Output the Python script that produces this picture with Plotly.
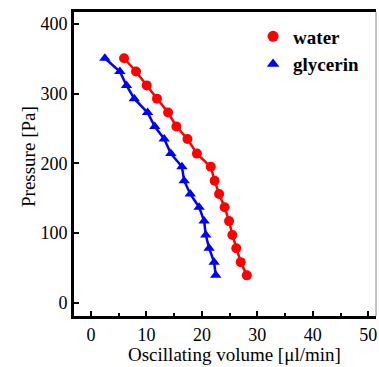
import plotly.graph_objects as go

pressure = [351, 332, 312, 293, 273, 253, 235, 214, 195, 175, 156, 137, 117, 97, 78, 58, 39]
water_vol = [5.96, 8.12, 10.05, 11.9, 13.9, 15.4, 17.4, 19.1, 21.6, 22.3, 23.1, 24.1, 24.9, 25.5, 26.2, 27.0, 28.1]
glycerin_vol = [2.5, 5.2, 6.4, 7.8, 10.2, 11.5, 13.2, 14.4, 16.4, 16.8, 17.9, 19.5, 20.4, 20.7, 21.3, 22.2, 22.5]

x_ticks = [0, 10, 20, 30, 40, 50]
y_ticks = [0, 100, 200, 300, 400]

serif = "Liberation Serif, Times New Roman, serif"
RED = "#ff0000"
BLUE = "#0000ff"

fig = go.Figure()
fig.add_trace(go.Scatter(
    x=water_vol, y=pressure, mode="lines+markers", name="water", showlegend=False,
    line=dict(color=RED, width=2.5),
    marker=dict(symbol="circle", size=10, color=RED),
))
fig.add_trace(go.Scatter(
    x=glycerin_vol, y=pressure, mode="lines+markers", name="glycerin", showlegend=False,
    line=dict(color=BLUE, width=2.5),
    marker=dict(symbol="triangle-up", size=10, color=BLUE),
))
# legend entries (markers only, like the reference)
fig.add_trace(go.Scatter(x=[None], y=[None], mode="markers", name="water",
                         marker=dict(symbol="circle", size=11, color=RED)))
fig.add_trace(go.Scatter(x=[None], y=[None], mode="markers", name="glycerin",
                         marker=dict(symbol="triangle-up", size=11, color=BLUE)))

fig.update_layout(
    width=379, height=367,
    margin=dict(l=74, r=3, t=12, b=51),
    paper_bgcolor="white", plot_bgcolor="white",
    font=dict(family=serif, color="black", size=18),
    showlegend=True,
    legend=dict(x=0.593, y=0.982, xanchor="left", yanchor="top",
                bgcolor="rgba(0,0,0,0)",
                font=dict(family=serif, size=19, color="black", weight="bold"),
                itemwidth=30),
    xaxis=dict(
        range=[-3.07, 51.4], tickvals=x_ticks, ticks="inside", ticklen=5, tickwidth=2,
        tickcolor="black", showline=True, linecolor="black", linewidth=3, mirror=True,
        showgrid=False, zeroline=False, automargin=False,
        minor=dict(dtick=5, ticks="inside", ticklen=3, tickwidth=2, tickcolor="black", showgrid=False),
        tickfont=dict(family=serif, size=18),
    ),
    yaxis=dict(
        range=[-19.4, 417.5], tickvals=y_ticks, ticks="inside", ticklen=5, tickwidth=2,
        tickcolor="black", showline=True, linecolor="black", linewidth=3, mirror=False,
        showgrid=False, zeroline=False, automargin=False,
        tickfont=dict(family=serif, size=18),
    ),
    annotations=[
        dict(text="Oscillating volume [μl/min]", xref="paper", yref="paper",
             x=(234 - 74) / 302, y=-(354 - 316) / 304, xanchor="center", yanchor="middle",
             showarrow=False, font=dict(family=serif, size=19, color="black")),
        dict(text="Pressure [Pa]", xref="paper", yref="paper",
             x=-(74 - 28) / 302, y=(316 - 157) / 304, xanchor="center", yanchor="middle",
             textangle=-90, showarrow=False, font=dict(family=serif, size=19, color="black")),
    ],
)
fig.add_shape(type="line", xref="paper", yref="paper", x0=1, x1=1, y0=0, y1=1,
              line=dict(color="#888888", width=1))

fig.write_html("out.html", config={"displayModeBar": False},
               post_script="document.body.style.margin='0';document.body.style.padding='0';")
